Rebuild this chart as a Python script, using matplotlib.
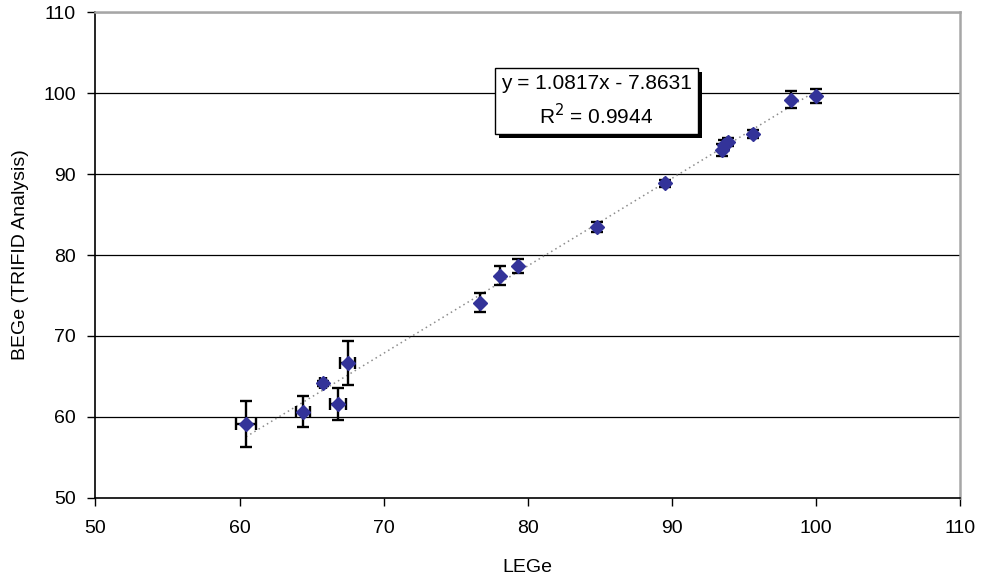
import numpy as np
import matplotlib
matplotlib.use("Agg")
import matplotlib.pyplot as plt
import matplotlib.patheffects as pe

plt.rcParams["font.family"] = ["Liberation Sans", "DejaVu Sans"]

# LEGe vs BEGe (TRIFID) values
lege = [60.45, 64.39, 65.77, 66.86, 67.50, 76.66, 78.05, 79.34, 84.82, 89.54,
        93.45, 93.60, 93.86, 95.60, 98.28, 99.97]
bege = [59.11, 60.63, 64.15, 61.55, 66.69, 74.11, 77.45, 78.65, 83.44, 88.88,
        93.00, 93.60, 94.00, 94.97, 99.21, 99.63]
lege_err = [0.69, 0.50, 0.20, 0.55, 0.50, 0.0, 0.0, 0.0, 0.0, 0.0,
            0.0, 0.0, 0.0, 0.0, 0.0, 0.0]
bege_err = [2.8, 1.9, 0.3, 2.0, 2.7, 1.2, 1.2, 0.9, 0.6, 0.4,
            0.7, 0.6, 0.5, 0.5, 1.05, 0.87]

slope, intercept = 1.0817, -7.8631
r2 = 0.9944

fig = plt.figure(figsize=(9.86, 5.81), dpi=100)
ax = fig.add_axes([0.0967, 0.1434, 0.8773, 0.8351])

for yv in range(60, 111, 10):
    ax.axhline(yv, color="black", lw=0.9, zorder=1)

xl = np.array([min(lege), max(lege)])
ax.plot(xl, slope * xl + intercept, ls=(0, (1, 2.2)), color="#8c8c8c", lw=1.1, zorder=2)

ax.errorbar(lege, bege, xerr=lege_err, yerr=bege_err, fmt="D", color="#333399",
            markersize=7, ecolor="black", elinewidth=1.7, capsize=4, capthick=1.7,
            zorder=3)

ax.set_xlim(50, 110)
ax.set_ylim(50, 110)
ax.set_xticks(range(50, 111, 10))
ax.set_yticks(range(50, 111, 10))
ax.tick_params(direction="out", length=6, width=1, labelsize=14, pad=4)
ax.tick_params(axis="x", pad=10)
ax.tick_params(axis="y", pad=8)

for s in ["left", "bottom"]:
    ax.spines[s].set_color("black")
    ax.spines[s].set_linewidth(1.2)
for s in ["top", "right"]:
    ax.spines[s].set_color("#a6a6a6")
    ax.spines[s].set_linewidth(1.8)

ax.set_xlabel("LEGe", fontsize=14, labelpad=16)
ax.set_ylabel("BEGe (TRIFID Analysis)", fontsize=14, labelpad=10)

t = ax.text(0.579, 0.8176, "y = 1.0817x - 7.8631\nR$^2$ = 0.9944",
            transform=ax.transAxes, ha="center", va="center", fontsize=15,
            linespacing=1.45, zorder=5,
            bbox=dict(boxstyle="square,pad=0.3", fc="white", ec="black", lw=1))
t.get_bbox_patch().set_path_effects([
    pe.SimplePatchShadow(offset=(3, -3), shadow_rgbFace="black", alpha=1),
    pe.Normal()])

fig.savefig("out.png", dpi=100)
